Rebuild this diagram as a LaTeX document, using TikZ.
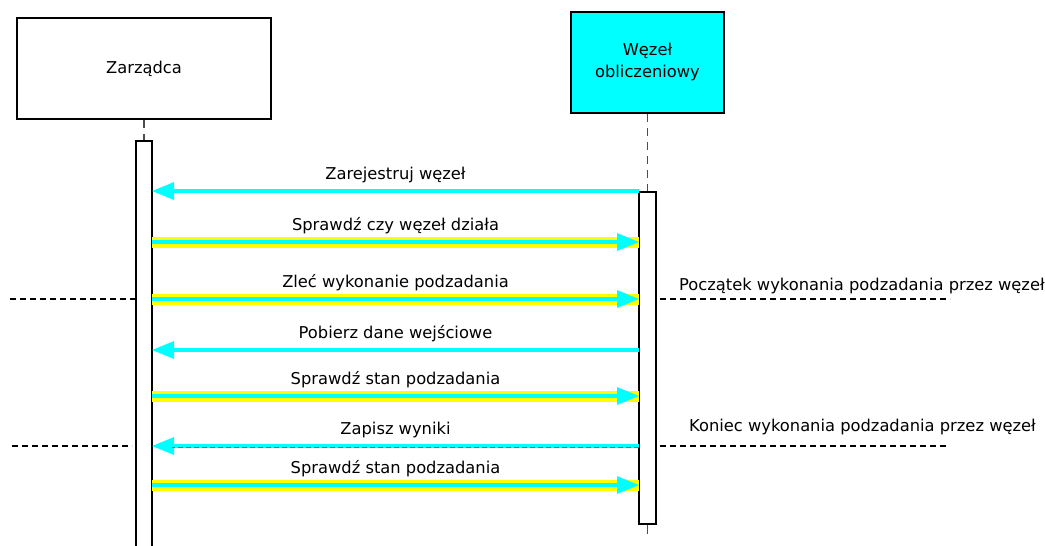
\documentclass[tikz,border=0pt]{standalone}
\usepackage{fontspec}
\setmainfont{DejaVu Sans}
\usetikzlibrary{arrows.meta}
\definecolor{aqua}{RGB}{0,255,255}
\definecolor{yel}{RGB}{255,255,0}
\tikzset{
  actorbox/.style={draw=black,line width=2.4pt,inner sep=0pt,align=center,font=\fontsize{16.3}{22}\selectfont},
  actbar/.style={draw=black,line width=2.4pt,fill=white,inner sep=0pt,minimum width=16pt},
  lifeline/.style={draw=black!70,line width=1.4pt,dash pattern=on 8pt off 6pt},
  msg/.style={draw=aqua,line width=3.2pt,-{Triangle[length=22pt,width=17pt,fill=aqua]}},
  band/.style={draw=yel,line width=11pt},
  msglabel/.style={anchor=base,inner sep=0pt,font=\fontsize{16.3}{19}\selectfont},
  sep/.style={draw=black,line width=2.8pt,dash pattern=on 6pt off 4pt},
  note/.style={anchor=base west,inner sep=0pt,font=\fontsize{16.3}{19}\selectfont}
}
\begin{document}
\begin{tikzpicture}[x=1pt,y=-1pt]
\useasboundingbox (0,0) rectangle (1045,546);
\clip (0,0) rectangle (1045,546);
% actors
\node[actorbox,minimum width=254pt,minimum height=101pt] (mgr) at (144,68.5) {Zarządca};
\node[actorbox,fill=aqua,minimum width=153pt,minimum height=101pt] (node) at (647.5,62.5) {Węzeł\\obliczeniowy};
% activation bars
\node[actbar,minimum height=420pt,anchor=north] (lbar) at (144,140) {};
\node[actbar,minimum width=17pt,minimum height=332pt,anchor=north] (rbar) at (647.5,191) {};
% lifelines
\draw[lifeline] (mgr.south) -- (lbar.north);
\draw[lifeline] (node.south) -- (rbar.north);
\coordinate (rend) at (647.5,546);
\draw[lifeline,dash pattern=on 9pt off 13pt] (rbar.south) -- (rend);
% message coordinates
\foreach \i/\y in {1/191,2/242,3/299,4/350,5/396,6/446,7/485}{
  \coordinate (L\i) at (152,\y);
  \coordinate (R\i) at (639,\y);
}
% separator lines
\coordinate (s1a) at (10,299);  \coordinate (s1b) at (136,299);
\coordinate (s1c) at (660,299); \coordinate (s1d) at (950,299);
\coordinate (s2a) at (12,446);  \coordinate (s2b) at (132,446);
\coordinate (s2c) at (660,446); \coordinate (s2d) at (946,446);
\draw[sep] (s1a) -- (s1b);
\draw[sep] (s1c) -- (s1d);
\draw[sep] (s2a) -- (s2b);
\draw[sep] (s2c) -- (s2d);
% messages
\draw[msg] (R1) -- node[msglabel,yshift=11.5pt]{Zarejestruj węzeł} (L1);
\draw[band] (L2) -- (R2);
\draw[msg] (L2) -- node[msglabel,yshift=11.5pt]{Sprawdź czy węzeł działa} (R2);
\draw[band] (L3) -- (R3);
\draw[msg] (L3) -- node[msglabel,yshift=11.5pt]{Zleć wykonanie podzadania} (R3);
\draw[msg] (R4) -- node[msglabel,yshift=11.5pt]{Pobierz dane wejściowe} (L4);
\draw[band] (L5) -- (R5);
\draw[msg] (L5) -- node[msglabel,yshift=11.5pt]{Sprawdź stan podzadania} (R5);
\draw[msg] (R6) -- node[msglabel,yshift=11.5pt]{Zapisz wyniki} (L6);
\draw[draw=aqua!60!black,line width=0.5pt,dash pattern=on 5pt off 3pt] ([yshift=-1pt]R6) -- ([yshift=-1pt,xshift=20pt]L6);
\draw[band] (L7) -- (R7);
\draw[msg] (L7) -- node[msglabel,yshift=11.5pt]{Sprawdź stan podzadania} (R7);
% notes
\node[note] (n1) at (679,290) {Początek wykonania podzadania przez węzeł};
\node[note] (n2) at (689,431) {Koniec wykonania podzadania przez węzeł};
\end{tikzpicture}
\end{document}
